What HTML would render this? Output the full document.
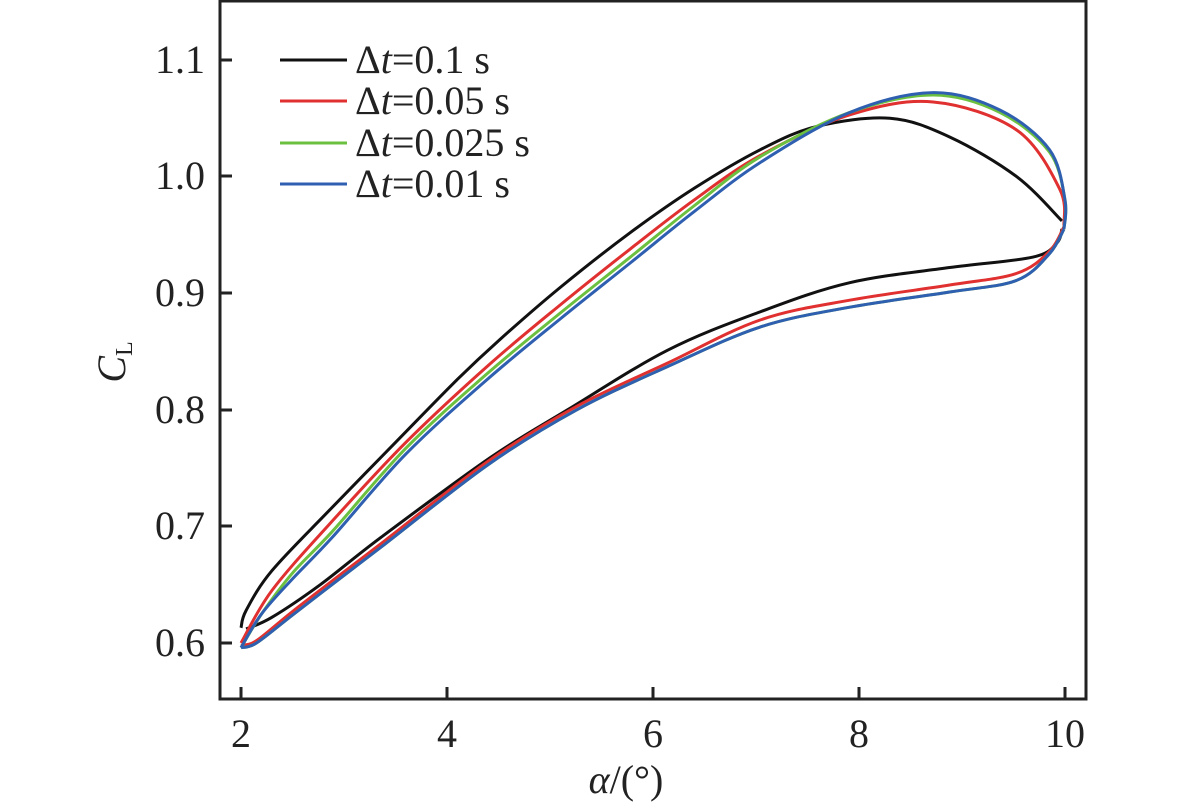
<!DOCTYPE html>
<html><head><meta charset="utf-8"><style>
body{margin:0;background:#fff}
svg{display:block;font-family:"Liberation Serif","Times New Roman",serif}
</style></head><body>
<svg id="s" width="1181" height="806" viewBox="0 0 1181 806">
<g fill="#222" font-size="40">
<text x="205" y="73" text-anchor="end">1.1</text>
<text x="205" y="189" text-anchor="end">1.0</text>
<text x="205" y="306" text-anchor="end">0.9</text>
<text x="205" y="423" text-anchor="end">0.8</text>
<text x="205" y="539" text-anchor="end">0.7</text>
<text x="205" y="656" text-anchor="end">0.6</text>
<text x="241" y="747" text-anchor="middle">2</text>
<text x="447" y="747" text-anchor="middle">4</text>
<text x="653" y="747" text-anchor="middle">6</text>
<text x="859" y="747" text-anchor="middle">8</text>
<text x="1065" y="747" text-anchor="middle">10</text>
<text x="626" y="793" text-anchor="middle"><tspan font-style="italic">α</tspan>/(°)</text>
<text transform="translate(125,362) rotate(-90)" text-anchor="middle"><tspan font-style="italic">C</tspan><tspan font-size="24" dy="7">L</tspan></text>
</g>
<g font-size="40" fill="#222">
<line x1="280" y1="60" x2="347" y2="60" stroke="#111" stroke-width="3"/>
<text x="355" y="73">Δ<tspan font-style="italic">t</tspan>=0.1 s</text>
<line x1="280" y1="101" x2="347" y2="101" stroke="#e03030" stroke-width="3"/>
<text x="355" y="114">Δ<tspan font-style="italic">t</tspan>=0.05 s</text>
<line x1="280" y1="143" x2="347" y2="143" stroke="#6cc040" stroke-width="3"/>
<text x="355" y="156">Δ<tspan font-style="italic">t</tspan>=0.025 s</text>
<line x1="280" y1="184" x2="347" y2="184" stroke="#2f5fb0" stroke-width="3"/>
<text x="355" y="197">Δ<tspan font-style="italic">t</tspan>=0.01 s</text>
</g>
<g id="curves" fill="none" stroke-width="3" stroke-linejoin="round"></g>
<rect x="220" y="1" width="866" height="698" fill="none" stroke="#222" stroke-width="3"/>
<g stroke="#222" stroke-width="3">
<line x1="220" y1="60" x2="232" y2="60"/><line x1="220" y1="176" x2="232" y2="176"/>
<line x1="220" y1="293" x2="232" y2="293"/><line x1="220" y1="410" x2="232" y2="410"/>
<line x1="220" y1="526" x2="232" y2="526"/><line x1="220" y1="643" x2="232" y2="643"/>
<line x1="241" y1="699" x2="241" y2="687"/><line x1="447" y1="699" x2="447" y2="687"/>
<line x1="653" y1="699" x2="653" y2="687"/><line x1="859" y1="699" x2="859" y2="687"/>
<line x1="1065" y1="699" x2="1065" y2="687"/>
</g>
</svg>
<script>
function X(a){return 241+103*(a-2)}function Y(c){return 643-1166*(c-0.6)}
function path(pts){var p=pts.map(function(q){return[X(q[0]),Y(q[1])]});
var d="M"+p[0][0].toFixed(1)+","+p[0][1].toFixed(1);
for(var i=0;i<p.length-1;i++){var p0=p[i-1]||p[i],p1=p[i],p2=p[i+1],p3=p[i+2]||p2;
var c1=[p1[0]+(p2[0]-p0[0])/6,p1[1]+(p2[1]-p0[1])/6],c2=[p2[0]-(p3[0]-p1[0])/6,p2[1]-(p3[1]-p1[1])/6];
d+="C"+c1.join(",")+" "+c2.join(",")+" "+p2.join(",");}return d;}
var blueU=[[2,0.596],[2.2,0.625],[2.5,0.655],[2.89,0.691],[3.6,0.762],[4.39,0.826],[5.1,0.878],[5.78,0.926],[6.4,0.97],[7.04,1.012],[7.91,1.055],[8.72,1.072],[9.37,1.057],[9.85,1.023],[10,0.98],[9.99,0.955]];
var blueL=[[9.99,0.955],[9.85,0.934],[9.53,0.911],[8.88,0.901],[7.91,0.888],[7.04,0.871],[6.14,0.837],[5.26,0.8],[4.4,0.753],[3.4,0.685],[3,0.658],[2.5,0.624],[2.15,0.6],[2,0.596]];
var blackU=[[2,0.613],[2.05,0.628],[2.3,0.662],[2.86,0.714],[3.5,0.772],[4.10,0.826],[4.51,0.860],[5.1,0.905],[5.78,0.952],[6.4,0.99],[7.04,1.023],[7.59,1.043],[8.3,1.05],[8.88,1.034],[9.53,1.0],[9.97,0.962]];
var blackL=[[9.97,0.955],[9.92,0.943],[9.69,0.931],[8.88,0.922],[7.91,0.909],[7.04,0.884],[6.14,0.851],[5.17,0.800],[4.42,0.759],[3.35,0.69],[2.77,0.65],[2.3,0.622],[2.05,0.612]];
var redU=[[2,0.6],[2.3,0.645],[2.87,0.703],[3.6,0.772],[4.4,0.838],[5.1,0.89],[5.78,0.938],[6.4,0.98],[7.04,1.018],[7.91,1.053],[8.72,1.064],[9.53,1.04],[9.95,0.989],[9.99,0.958]];
var redL=blueL.map(function(q){return[q[0],q[1]+(q[0]>2.3&&q[0]<9.7?(q[0]>6.5?0.006:0.003):0.002)]});
var greenU=blueU.map(function(q){return[q[0],q[1]+(q[0]>2.2&&q[0]<7.5?0.005:(q[0]>8&&q[0]<9.9?-0.002:0))]});
var g=document.getElementById("curves");
[["#111",blackU,blackL],["#e03030",redU,redL],["#6cc040",greenU,blueL],["#2f5fb0",blueU,blueL]].forEach(function(s){
[s[1],s[2]].forEach(function(pts){var e=document.createElementNS("http://www.w3.org/2000/svg","path");
e.setAttribute("d",path(pts));e.setAttribute("stroke",s[0]);g.appendChild(e);});});
</script>
</body></html>
